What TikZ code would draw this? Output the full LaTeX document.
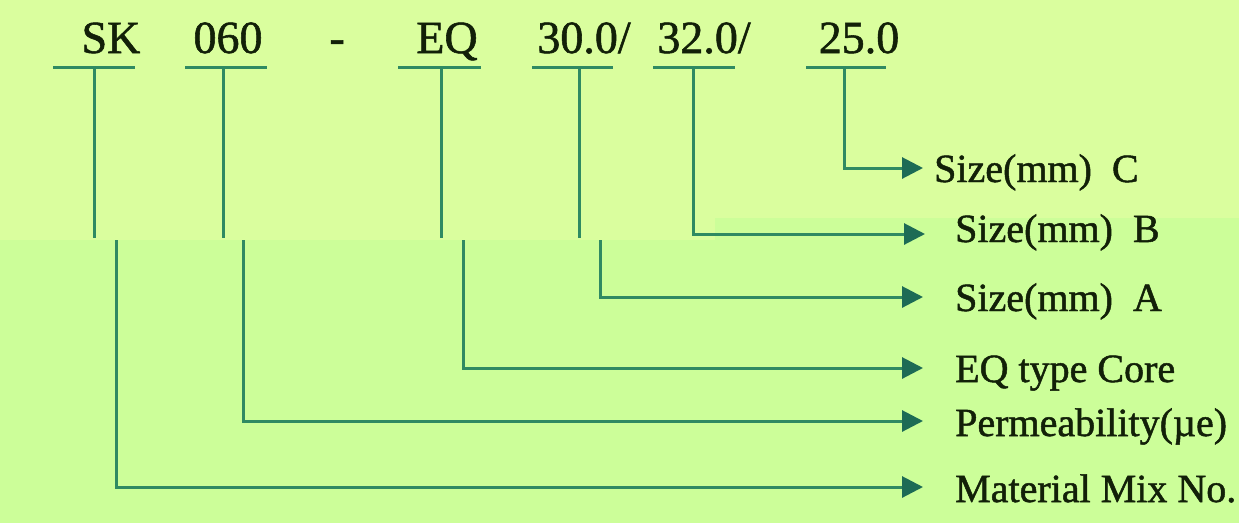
\documentclass[tikz,border=0pt]{standalone}
\usepackage{fontspec}
\setmainfont{Liberation Serif}
\newfontfamily\boldish[FakeBold=1.2]{Liberation Serif}
\usetikzlibrary{arrows.meta}
\definecolor{bgtop}{HTML}{DAFE9E}
\definecolor{bgbot}{HTML}{CCFE99}
\definecolor{ln}{HTML}{2F8A62}
\definecolor{tipc}{HTML}{1D6B55}
\definecolor{txt}{HTML}{122008}
\begin{document}
\begin{tikzpicture}[x=1pt,y=-1pt,
  ttl/.style={font=\boldish\fontsize{46}{50}\selectfont, text=txt, anchor=base, inner sep=0pt},
  lbl/.style={font=\boldish\fontsize{40}{44}\selectfont, text=txt, anchor=base west, inner sep=0pt},
  conn/.style={draw=ln, line width=3pt},
  arr/.style={-{Triangle[length=21pt,width=21pt,color=tipc,fill=tipc]}},
  bar/.style={draw=ln, line width=3pt}]
\useasboundingbox (0,0) rectangle (1239,523);
\fill[bgbot] (0,0) rectangle (1239,523);
\fill[bgtop] (0,0) rectangle (1239,218);
\fill[bgtop] (0,218) rectangle (715,240);
% top code
\node[ttl] (tSK) at (111,53) {SK};
\node[ttl] (t060) at (228,53) {060};
\node[ttl] (tdash) at (337,53) {-};
\node[ttl] (tEQ) at (447,53) {EQ};
\node[ttl] (tA) at (584,53) {30.0/};
\node[ttl] (tB) at (704,53) {32.0/};
\node[ttl] (tC) at (859,53) {25.0};
% bars
\draw[bar] (53,67) -- (135,67);
\draw[bar] (185,67) -- (267,67);
\draw[bar] (398,67) -- (481,67);
\draw[bar] (532,67) -- (613,67);
\draw[bar] (653,67) -- (735,67);
\draw[bar] (806,67) -- (886,67);
% labels
\node[lbl] (lC) at (934,182) {Size(mm)\ \ C};
\node[lbl] (lB) at (955,242) {Size(mm)\ \ B};
\node[lbl] (lA) at (955,311) {Size(mm)\ \ A};
\node[lbl] (lEQ) at (955,382) {EQ type Core};
\node[lbl] (lP) at (955,436) {Permeability(µe)};
\node[lbl] (lM) at (955,502) {Material Mix No.};
% arrow ends beside the labels
\coordinate (aC) at (923,168);
\coordinate (aB) at (925,234);
\coordinate (aA) at (923,297);
\coordinate (aEQ) at (923,368);
\coordinate (aP) at (923,421);
\coordinate (aM) at (923,487);
% bar attach points
\coordinate (pSK) at (94,67);
\coordinate (p060) at (223,67);
\coordinate (pEQ) at (441,67);
\coordinate (pA) at (579,67);
\coordinate (pB) at (693,67);
\coordinate (pC) at (844,67);
% break points (shifted lower segments)
\coordinate (eSK) at (94,238);   \coordinate (fSK) at (116,240);
\coordinate (e060) at (223,238); \coordinate (f060) at (243,240);
\coordinate (eEQ) at (441,238);  \coordinate (fEQ) at (463,240);
\coordinate (eA) at (579,238);   \coordinate (fA) at (600,240);
% connectors
\draw[conn,arr] (pC) |- (aC);
\draw[conn,arr] (pB) |- (aB);
\draw[conn] (pA) -- (eA);
\draw[conn,arr] (fA) |- (aA);
\draw[conn] (pEQ) -- (eEQ);
\draw[conn,arr] (fEQ) |- (aEQ);
\draw[conn] (p060) -- (e060);
\draw[conn,arr] (f060) |- (aP);
\draw[conn] (pSK) -- (eSK);
\draw[conn,arr] (fSK) |- (aM);
\end{tikzpicture}
\end{document}
